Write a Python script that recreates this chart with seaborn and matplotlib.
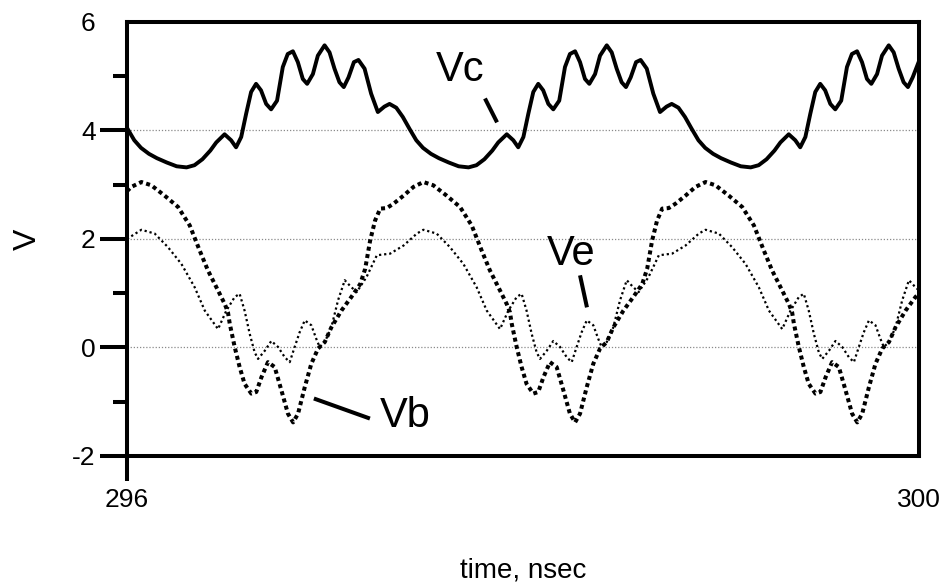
import matplotlib
matplotlib.use("Agg")
import matplotlib.pyplot as plt
import seaborn as sns
from matplotlib.ticker import FixedLocator

sns.set_style("white")
plt.rcParams["font.family"] = ["Liberation Sans", "DejaVu Sans"]
plt.rcParams["axes.unicode_minus"] = False
plt.rcParams["text.color"] = "black"
plt.rcParams["axes.labelcolor"] = "black"
plt.rcParams["xtick.color"] = "black"
plt.rcParams["ytick.color"] = "black"

# Collector voltage Vc (solid)
vc_t = [296.000, 296.037, 296.071, 296.111, 296.151, 296.201, 296.251, 296.301,
        296.341, 296.381, 296.421, 296.451,
        296.493, 296.526, 296.551, 296.577, 296.602, 296.627, 296.652, 296.677,
        296.703, 296.728, 296.758, 296.787, 296.812, 296.838, 296.863, 296.888,
        296.910, 296.939, 296.964, 296.998, 297.023, 297.048, 297.073, 297.095,
        297.119, 297.146, 297.169, 297.200, 297.233, 297.267, 297.300, 297.326,
        297.360, 297.393, 297.427, 297.461, 297.495, 297.535, 297.575, 297.625,
        297.675, 297.725, 297.765, 297.805, 297.845, 297.875,
        297.918, 297.951, 297.976, 298.002, 298.027, 298.052, 298.077, 298.102,
        298.128, 298.153, 298.183, 298.212, 298.237, 298.263, 298.288, 298.313,
        298.335, 298.364, 298.389, 298.423, 298.448, 298.473, 298.498, 298.520,
        298.544, 298.571, 298.594, 298.625, 298.658, 298.692, 298.725, 298.751,
        298.785, 298.818, 298.852, 298.886, 298.920, 298.960, 299.000, 299.050,
        299.100, 299.150, 299.190, 299.230, 299.270, 299.300,
        299.342, 299.375, 299.400, 299.426, 299.451, 299.476, 299.501, 299.526,
        299.552, 299.577, 299.607, 299.636, 299.661, 299.687, 299.712, 299.737,
        299.759, 299.788, 299.813, 299.847, 299.872, 299.897, 299.922, 299.944,
        299.968, 300.000]
vc_v = [4.05, 3.82, 3.68, 3.57, 3.49, 3.41, 3.34, 3.32,
        3.36, 3.47, 3.63, 3.78,
        3.93, 3.82, 3.69, 3.88, 4.31, 4.71, 4.86, 4.74,
        4.49, 4.39, 4.55, 5.17, 5.41, 5.46, 5.26, 4.95,
        4.86, 5.04, 5.38, 5.57, 5.44, 5.14, 4.89, 4.80,
        4.98, 5.26, 5.30, 5.14, 4.68, 4.34, 4.44, 4.49,
        4.42, 4.25, 4.03, 3.82, 3.68, 3.57, 3.49, 3.41,
        3.34, 3.32, 3.36, 3.47, 3.63, 3.78,
        3.93, 3.82, 3.69, 3.88, 4.31, 4.71, 4.86, 4.74,
        4.49, 4.39, 4.55, 5.17, 5.41, 5.46, 5.26, 4.95,
        4.86, 5.04, 5.38, 5.57, 5.44, 5.14, 4.89, 4.80,
        4.98, 5.26, 5.30, 5.14, 4.68, 4.34, 4.44, 4.49,
        4.42, 4.25, 4.03, 3.82, 3.68, 3.57, 3.49, 3.41,
        3.34, 3.32, 3.36, 3.47, 3.63, 3.78,
        3.93, 3.82, 3.69, 3.88, 4.31, 4.71, 4.86, 4.74,
        4.49, 4.39, 4.55, 5.17, 5.41, 5.46, 5.26, 4.95,
        4.86, 5.04, 5.38, 5.57, 5.44, 5.14, 4.89, 4.80,
        4.98, 5.28]

# Base voltage Vb (heavy dots)
vb_t = [296.000, 296.022, 296.073, 296.123, 296.190, 296.258, 296.317, 296.367,
        296.409, 296.460, 296.494, 296.510, 296.519, 296.544, 296.569, 296.594,
        296.628, 296.653, 296.679, 296.712, 296.746, 296.780, 296.813, 296.839,
        296.864, 296.898, 296.931, 296.965, 296.999, 297.032, 297.083, 297.133,
        297.178, 297.203, 297.228, 297.253, 297.279, 297.312, 297.346, 297.397,
        297.447,
        297.497, 297.547, 297.614, 297.682, 297.741, 297.791, 297.833, 297.884,
        297.918, 297.934, 297.943, 297.968, 297.993, 298.018, 298.052, 298.077,
        298.103, 298.136, 298.170, 298.204, 298.237, 298.263, 298.288, 298.322,
        298.355, 298.389, 298.423, 298.456, 298.507, 298.557, 298.602, 298.627,
        298.652, 298.677, 298.703, 298.736, 298.770, 298.821, 298.871,
        298.922, 298.972, 299.039, 299.107, 299.166, 299.216, 299.258, 299.309,
        299.343, 299.359, 299.368, 299.393, 299.418, 299.443, 299.477, 299.502,
        299.528, 299.561, 299.595, 299.629, 299.662, 299.688, 299.713, 299.747,
        299.780, 299.814, 299.848, 299.881, 299.932, 299.982, 300.000]
vb_v = [2.88, 2.96, 3.05, 2.99, 2.80, 2.59, 2.25, 1.79,
        1.42, 1.05, 0.80, 0.65, 0.44, 0.01, -0.36, -0.67,
        -0.85, -0.82, -0.55, -0.27, -0.36, -0.79, -1.22, -1.38,
        -1.22, -0.73, -0.30, -0.02, 0.10, 0.37, 0.68, 0.93,
        1.17, 1.45, 1.97, 2.34, 2.56, 2.57, 2.65, 2.80,
        2.96,
        3.05, 2.99, 2.80, 2.59, 2.25, 1.79, 1.42, 1.05,
        0.80, 0.65, 0.44, 0.01, -0.36, -0.67, -0.85, -0.82,
        -0.55, -0.27, -0.36, -0.79, -1.22, -1.38, -1.22, -0.73,
        -0.30, -0.02, 0.10, 0.37, 0.68, 0.93, 1.17, 1.45,
        1.97, 2.34, 2.56, 2.57, 2.65, 2.80, 2.96,
        3.05, 2.99, 2.80, 2.59, 2.25, 1.79, 1.42, 1.05,
        0.80, 0.65, 0.44, 0.01, -0.36, -0.67, -0.85, -0.82,
        -0.55, -0.27, -0.36, -0.79, -1.22, -1.38, -1.22, -0.73,
        -0.30, -0.02, 0.10, 0.37, 0.68, 0.93, 1.00]

# Emitter voltage Ve (light dots)
ve_t = [296.000, 296.073, 296.140, 296.207, 296.275, 296.342, 296.393, 296.460,
        296.502, 296.544, 296.569, 296.594, 296.620, 296.645, 296.662, 296.696,
        296.729, 296.763, 296.797, 296.822, 296.847, 296.872, 296.898, 296.931,
        296.956, 296.973, 296.999, 297.032, 297.066, 297.100, 297.128, 297.160,
        297.210, 297.262, 297.329, 297.397, 297.464,
        297.497, 297.564, 297.631, 297.699, 297.766, 297.817, 297.884, 297.926,
        297.968, 297.993, 298.018, 298.044, 298.069, 298.086, 298.120, 298.153,
        298.187, 298.221, 298.246, 298.271, 298.296, 298.322, 298.355, 298.380,
        298.397, 298.423, 298.456, 298.490, 298.524, 298.552, 298.584, 298.634,
        298.686, 298.753, 298.821, 298.888,
        298.922, 298.989, 299.056, 299.124, 299.191, 299.242, 299.309, 299.351,
        299.393, 299.418, 299.443, 299.469, 299.494, 299.511, 299.545, 299.578,
        299.612, 299.646, 299.671, 299.696, 299.721, 299.747, 299.780, 299.805,
        299.822, 299.848, 299.881, 299.915, 299.949, 299.977, 300.000]
ve_v = [2.00, 2.17, 2.10, 1.85, 1.54, 1.11, 0.68, 0.34,
        0.68, 0.93, 0.99, 0.68, 0.25, -0.09, -0.21, -0.06,
        0.12, 0.01, -0.18, -0.27, 0.01, 0.28, 0.50, 0.41,
        0.16, 0.01, 0.10, 0.37, 0.87, 1.24, 1.13, 1.02,
        1.30, 1.70, 1.73, 1.88, 2.10,
        2.17, 2.10, 1.85, 1.54, 1.11, 0.68, 0.34, 0.68,
        0.93, 0.99, 0.68, 0.25, -0.09, -0.21, -0.06, 0.12,
        0.01, -0.18, -0.27, 0.01, 0.28, 0.50, 0.41, 0.16,
        0.01, 0.10, 0.37, 0.87, 1.24, 1.13, 1.02, 1.30,
        1.70, 1.73, 1.88, 2.10,
        2.17, 2.10, 1.85, 1.54, 1.11, 0.68, 0.34, 0.68,
        0.93, 0.99, 0.68, 0.25, -0.09, -0.21, -0.06, 0.12,
        0.01, -0.18, -0.27, 0.01, 0.28, 0.50, 0.41, 0.16,
        0.01, 0.10, 0.37, 0.87, 1.24, 1.13, 1.05]

y_major = [-2, 0, 2, 4, 6]
y_minor = [-1, 1, 3, 5]
x_ticks = [296, 300]

fig = plt.figure(figsize=(9.46, 5.88), dpi=100)
ax = fig.add_axes([0.1342, 0.2245, 0.8373, 0.7381])

sns.lineplot(x=vc_t, y=vc_v, ax=ax, color="black", linewidth=2.8,
             sort=False, estimator=None)
sns.lineplot(x=vb_t, y=vb_v, ax=ax, color="black", linewidth=2.9,
             linestyle=(0, (1.0, 0.85)), sort=False, estimator=None)
sns.lineplot(x=ve_t, y=ve_v, ax=ax, color="black", linewidth=1.6,
             linestyle=(0, (1.0, 1.3)), sort=False, estimator=None)

ax.set_xlim(296, 300)
ax.set_ylim(-2, 6)

for yv in [0, 2, 4]:
    ax.axhline(yv, color="#8a8a8a", linewidth=0.9, linestyle=(0, (1, 1.5)),
               zorder=0.5)

for sp in ax.spines.values():
    sp.set_linewidth(2.9)
    sp.set_color("black")

ax.yaxis.set_major_locator(FixedLocator(y_major))
ax.yaxis.set_minor_locator(FixedLocator(y_minor))
ax.set_yticklabels([str(v) for v in y_major])
ax.xaxis.set_major_locator(FixedLocator(x_ticks))
ax.set_xticklabels([str(v) for v in x_ticks])

ax.tick_params(axis="y", which="major", direction="out", length=19.5, width=2.9,
               labelsize=19, pad=3, left=True)
ax.tick_params(axis="y", which="minor", direction="out", length=10, width=2.9,
               left=True)
ax.tick_params(axis="x", which="major", direction="out", length=18, width=2.9,
               labelsize=19, pad=5, bottom=True)

# no tick mark on the top y value or on the right x value
ax.yaxis.get_major_ticks()[-1].tick1line.set_visible(False)
ax.xaxis.get_major_ticks()[-1].tick1line.set_visible(False)

ax.set_xlabel("time, nsec", fontsize=20, labelpad=33)
ax.set_ylabel("V", fontsize=23, labelpad=21)

# curve labels with leader lines
ax.text(297.682, 5.12, "Vc", fontsize=30, ha="center", va="center")
ax.plot([297.808, 297.869], [4.59, 4.15], color="black", linewidth=2.9,
        solid_capstyle="butt")
ax.text(298.242, 1.73, "Ve", fontsize=30, ha="center", va="center")
ax.plot([298.288, 298.323], [1.33, 0.74], color="black", linewidth=2.9,
        solid_capstyle="butt")
ax.text(297.404, -1.27, "Vb", fontsize=30, ha="center", va="center")
ax.plot([296.944, 297.227], [-0.94, -1.31], color="black", linewidth=2.9,
        solid_capstyle="butt")

fig.savefig("out.png", dpi=100)
